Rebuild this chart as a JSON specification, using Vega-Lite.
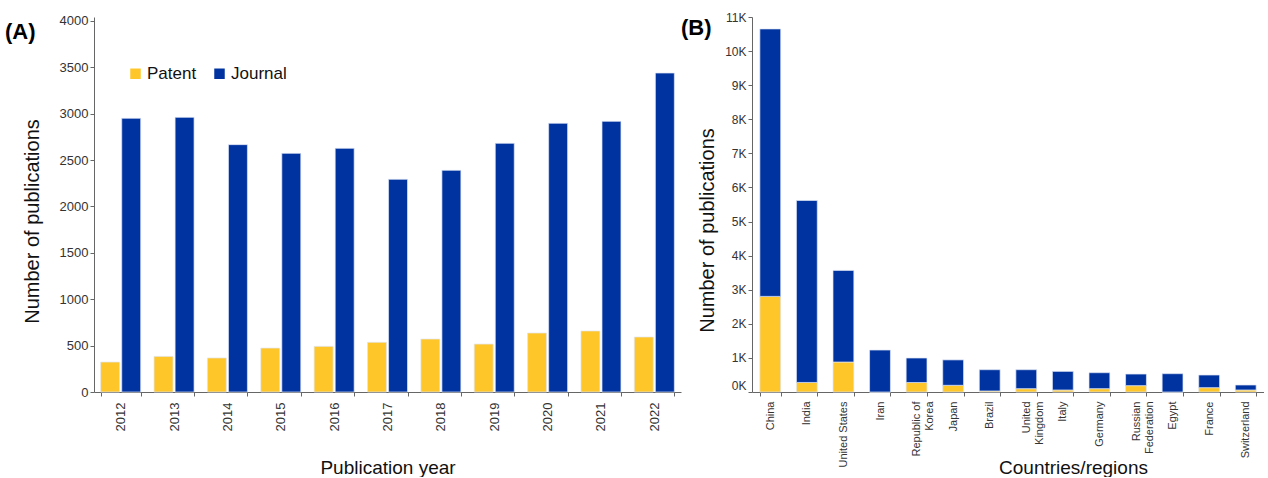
{
  "$schema": "https://vega.github.io/schema/vega-lite/v6.json",
  "background": "white",
  "padding": {"left": 5, "top": 11, "right": 0, "bottom": 0},
  "spacing": 0,
  "config": {
    "font": "Liberation Sans",
    "view": {"stroke": null},
    "axis": {
      "grid": false,
      "domainColor": "#666",
      "tickColor": "#666",
      "tickSize": 4,
      "labelColor": "#333",
      "titleColor": "#111",
      "titleFontWeight": "normal",
      "titleFontSize": 20,
      "labelFontSize": 13
    },
    "legend": {
      "labelFontSize": 17,
      "labelColor": "#111",
      "symbolType": "square",
      "symbolSize": 110,
      "symbolStrokeWidth": 0,
      "columnPadding": 14,
      "labelOffset": 3
    },
    "title": {"fontSize": 22, "fontWeight": "bold", "color": "#000"}
  },
  "hconcat": [
    {
      "width": 587,
      "height": 375,
      "title": {"text": "(A)", "anchor": "start", "frame": "group", "dx": -89, "dy": 46, "offset": 0, "baseline": "alphabetic"},
      "data": {"values": [
        {"year": "2012", "type": "Patent", "count": 323},
        {"year": "2012", "type": "Journal", "count": 2951},
        {"year": "2013", "type": "Patent", "count": 384},
        {"year": "2013", "type": "Journal", "count": 2961},
        {"year": "2014", "type": "Patent", "count": 367},
        {"year": "2014", "type": "Journal", "count": 2667},
        {"year": "2015", "type": "Patent", "count": 474},
        {"year": "2015", "type": "Journal", "count": 2573},
        {"year": "2016", "type": "Patent", "count": 492},
        {"year": "2016", "type": "Journal", "count": 2627},
        {"year": "2017", "type": "Patent", "count": 536},
        {"year": "2017", "type": "Journal", "count": 2293},
        {"year": "2018", "type": "Patent", "count": 571},
        {"year": "2018", "type": "Journal", "count": 2390},
        {"year": "2019", "type": "Patent", "count": 517},
        {"year": "2019", "type": "Journal", "count": 2681},
        {"year": "2020", "type": "Patent", "count": 636},
        {"year": "2020", "type": "Journal", "count": 2897},
        {"year": "2021", "type": "Patent", "count": 658},
        {"year": "2021", "type": "Journal", "count": 2918},
        {"year": "2022", "type": "Patent", "count": 593},
        {"year": "2022", "type": "Journal", "count": 3439}
      ]},
      "mark": {"type": "bar", "stroke": "#dfe6f5", "strokeWidth": 0.7},
      "encoding": {
        "x": {
          "field": "year", "type": "ordinal",
          "scale": {"paddingInner": 0.25, "paddingOuter": 0.125},
          "axis": {"title": "Publication year", "labelAngle": -90, "tickBand": "extent", "titleY": 81, "titleBaseline": "alphabetic", "titleFontSize": 19, "labelPadding": 6}
        },
        "xOffset": {"field": "type", "sort": ["Patent", "Journal"], "scale": {"paddingInner": 0.1}},
        "y": {
          "field": "count", "type": "quantitative",
          "scale": {"domain": [0, 4043], "nice": false},
          "axis": {"values": [0, 500, 1000, 1500, 2000, 2500, 3000, 3500, 4000], "format": "d", "title": "Number of publications", "titleX": -62, "titleY": 204, "titleBaseline": "middle", "titleAlign": "center"}
        },
        "color": {
          "field": "type", "type": "nominal",
          "scale": {"domain": ["Patent", "Journal"], "range": ["#FFC629", "#0033A0"]},
          "legend": {"orient": "none", "legendX": 33, "legendY": 48, "direction": "horizontal", "title": null}
        }
      }
    },
    {
      "width": 512,
      "height": 375,
      "title": {"text": "(B)", "anchor": "start", "frame": "group", "dx": -71, "dy": 46, "offset": 0, "baseline": "alphabetic"},
      "data": {"values": [
        {"country": "China", "type": "Patent", "count": 2805},
        {"country": "China", "type": "Journal", "count": 7845},
        {"country": "India", "type": "Patent", "count": 280},
        {"country": "India", "type": "Journal", "count": 5338},
        {"country": "United States", "type": "Patent", "count": 879},
        {"country": "United States", "type": "Journal", "count": 2688},
        {"country": "Iran", "type": "Patent", "count": 0},
        {"country": "Iran", "type": "Journal", "count": 1231},
        {"country": "Republic of Korea", "type": "Patent", "count": 278},
        {"country": "Republic of Korea", "type": "Journal", "count": 719},
        {"country": "Japan", "type": "Patent", "count": 196},
        {"country": "Japan", "type": "Journal", "count": 746},
        {"country": "Brazil", "type": "Patent", "count": 30},
        {"country": "Brazil", "type": "Journal", "count": 624},
        {"country": "United Kingdom", "type": "Patent", "count": 98},
        {"country": "United Kingdom", "type": "Journal", "count": 556},
        {"country": "Italy", "type": "Patent", "count": 59},
        {"country": "Italy", "type": "Journal", "count": 546},
        {"country": "Germany", "type": "Patent", "count": 98},
        {"country": "Germany", "type": "Journal", "count": 468},
        {"country": "Russian Federation", "type": "Patent", "count": 186},
        {"country": "Russian Federation", "type": "Journal", "count": 341},
        {"country": "Egypt", "type": "Patent", "count": 0},
        {"country": "Egypt", "type": "Journal", "count": 537},
        {"country": "France", "type": "Patent", "count": 127},
        {"country": "France", "type": "Journal", "count": 371},
        {"country": "Switzerland", "type": "Patent", "count": 59},
        {"country": "Switzerland", "type": "Journal", "count": 146}
      ]},
      "mark": {"type": "bar", "stroke": "#dfe6f5", "strokeWidth": 0.7},
      "encoding": {
        "x": {
          "field": "country", "type": "nominal", "sort": null,
          "scale": {"paddingInner": 0.43, "paddingOuter": 0.215},
          "axis": {
            "title": "Countries/regions", "labelAngle": -90, "tickBand": "extent", "labelFontSize": 11, "labelPadding": 5,
            "labelExpr": "datum.label == 'Republic of Korea' ? ['Republic of', 'Korea'] : datum.label == 'United Kingdom' ? ['United', 'Kingdom'] : datum.label == 'Russian Federation' ? ['Russian', 'Federation'] : datum.label",
            "titleY": 81, "titleX": 321, "titleBaseline": "alphabetic", "titleFontSize": 19
          }
        },
        "y": {
          "field": "count", "type": "quantitative", "stack": "zero",
          "scale": {"domain": [0, 11000], "nice": false},
          "axis": {
            "values": [0, 1000, 2000, 3000, 4000, 5000, 6000, 7000, 8000, 9000, 10000, 11000],
            "labelExpr": "(datum.value / 1000) + 'K'",
            "labelFontSize": 12,
            "labelBaseline": {"condition": {"test": "datum.value == 0", "value": "bottom"}, "value": "middle"},
            "title": "Number of publications", "titleX": -45, "titleY": 213, "titleBaseline": "middle", "titleAlign": "center"
          }
        },
        "order": {"field": "type", "sort": "descending"},
        "color": {
          "field": "type", "type": "nominal",
          "scale": {"domain": ["Patent", "Journal"], "range": ["#FFC629", "#0033A0"]},
          "legend": {"orient": "none", "legendX": 81, "legendY": 48, "direction": "horizontal", "title": null}
        }
      }
    }
  ]
}
